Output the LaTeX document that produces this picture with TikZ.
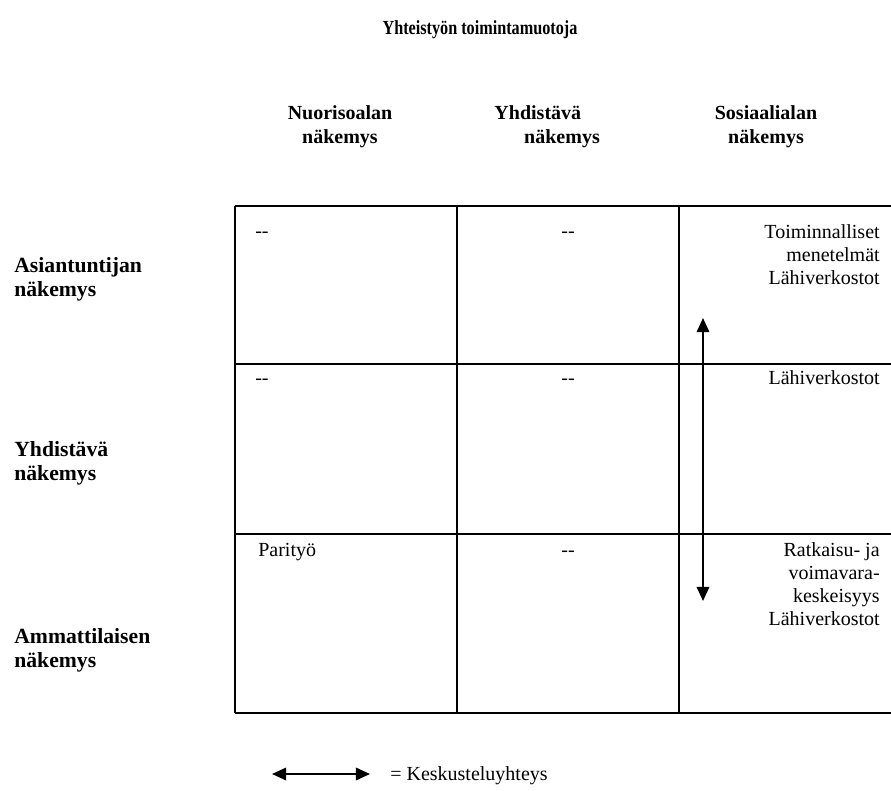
\documentclass[tikz,border=0pt]{standalone}
\usepackage{fontspec}
\setmainfont{Liberation Serif}
\usetikzlibrary{arrows.meta}
\usetikzlibrary{calc}

\tikzset{
  txt/.style={inner sep=0pt, font=\fontsize{12}{13.8}\selectfont},
  head/.style={txt, font=\fontsize{12}{14.4}\selectfont\bfseries, align=center, anchor=north},
  rowhead/.style={txt, font=\fontsize{13}{14.6}\selectfont\bfseries, align=left, anchor=north west},
  cellr/.style={txt, align=right, anchor=north east},
  tableline/.style={line width=0.9pt},
  talk/.style={line width=1.2pt, {Triangle[length=8.5pt,width=7.5pt]}-{Triangle[length=8.5pt,width=7.5pt]}}
}
\newcommand{\nodash}{-{}-}

\begin{document}
\begin{tikzpicture}[x=0.6pt,y=0.6pt]
\useasboundingbox (0,0) rectangle (891,-791);
% the table
\foreach \y in {206,364,534,713}
  \draw[tableline] (235,-\y) -- (891,-\y);
\foreach \x in {235,457,679}
  \draw[tableline] (\x,-206) -- (\x,-713);
% title and column heads
\node[txt, font=\fontsize{12}{13.8}\selectfont\bfseries, anchor=base] (title) at (480,-35) {\scalebox{0.81}[1]{Yhteistyön toimintamuotoja}};
\node[head] (nuoriso) at (340,-105) {Nuorisoalan\\näkemys};
\node[head] (yhdcol) at (562,-105) {\hbox{Yhdistävä\kern29pt}\\näkemys};
\node[head] (sosiaali) at (766,-105) {Sosiaalialan\\näkemys};
% row heads
\node[rowhead] (asiantuntija) at (14,-257) {Asiantuntijan\\näkemys};
\node[rowhead] (yhdrow) at (14,-441) {Yhdistävä\\näkemys};
\node[rowhead] (ammatti) at (14,-628) {Ammattilaisen\\näkemys};
% cells
%     1st row
\node[txt, anchor=base west] (a1) at (255,-238) {\nodash};
\node[txt, anchor=base] (a2) at (568,-238) {\nodash};
\node[cellr] (a3) at (880,-224) {Toiminnalliset\\menetelmät\\Lähiverkostot};
%     2nd row
\node[txt, anchor=base west] (b1) at (255,-385) {\nodash};
\node[txt, anchor=base] (b2) at (568,-385) {\nodash};
\node[txt, anchor=base east] (b3) at (880,-385) {Lähiverkostot};
%     3rd row
\node[txt, anchor=base west] (c1) at (258,-556) {Parityö};
\node[txt, anchor=base] (c2) at (568,-556) {\nodash};
\node[cellr] (c3) at (880,-542) {Ratkaisu- ja\\voimavara-\\keskeisyys\\Lähiverkostot};
% the arrow
\coordinate (up) at (703,-318);
\coordinate (down) at (703,-601);
\draw[talk] (down) -- (up);
% legend
\coordinate (lega) at (272,-774);
\coordinate (legb) at (370,-774);
\draw[talk] (lega) -- (legb);
\node[txt, anchor=base west] (legtext) at (390,-780) {= Keskusteluyhteys};
\end{tikzpicture}
\end{document}
